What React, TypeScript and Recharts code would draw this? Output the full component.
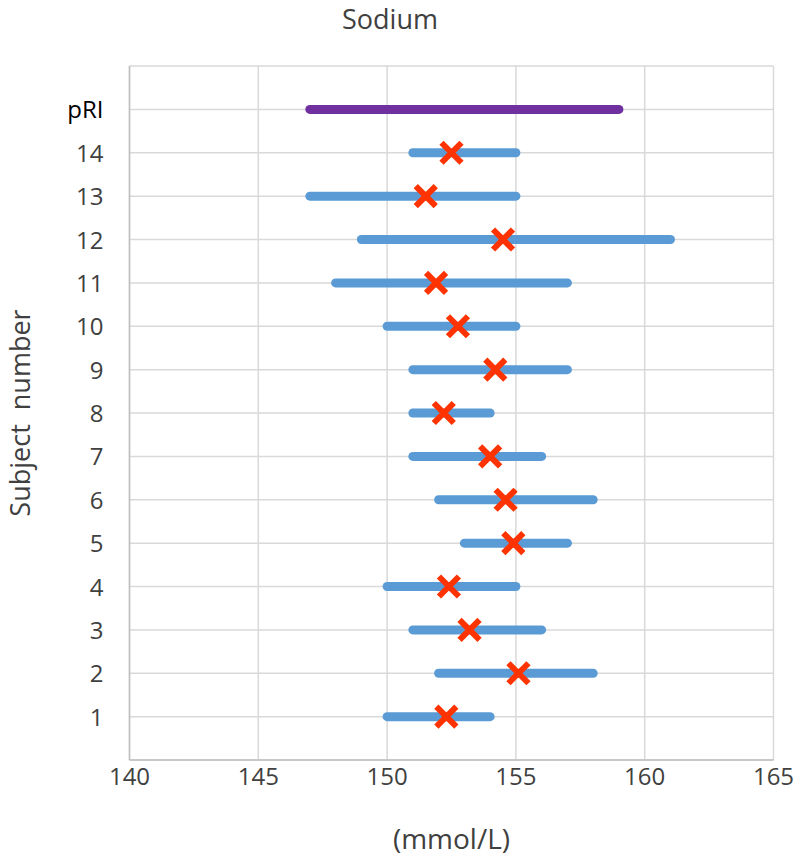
import React from 'react';
import { ScatterChart, Scatter, XAxis, YAxis, CartesianGrid } from 'recharts';

const subjects = [1, 2, 3, 4, 5, 6, 7, 8, 9, 10, 11, 12, 13, 14];
const lows = [150, 152, 151, 150, 153, 152, 151, 151, 151, 150, 148, 149, 147, 151];
const highs = [154, 158, 156, 155, 157, 158, 156, 154, 157, 155, 157, 161, 155, 155];
const means = [152.3, 155.1, 153.2, 152.4, 154.9, 154.6, 154.0, 152.2, 154.2, 152.75, 151.9, 154.5, 151.5, 152.5];
const pRIRange = [147, 159];
const pRIRow = 15;
const xTicks = [140, 145, 150, 155, 160, 165];
const yTicks = [0, 1, 2, 3, 4, 5, 6, 7, 8, 9, 10, 11, 12, 13, 14, 15, 16];

const FONT = '"Open Sans", sans-serif';
const BLUE = '#5b9bd5';
const PURPLE = '#7030a0';
const RED = '#ff3300';

const rangeSeries = subjects.map((s, i) => [
  { x: lows[i], y: s },
  { x: highs[i], y: s },
]);
const pRIData = [
  { x: pRIRange[0], y: pRIRow },
  { x: pRIRange[1], y: pRIRow },
];
const meanData = subjects.map((s, i) => ({ x: means[i], y: s }));

const Nothing = () => <g />;

const Cross = (props: any) => {
  const { cx, cy } = props;
  const r = 10;
  return (
    <path
      d={`M${cx - r},${cy - r}L${cx + r},${cy + r}M${cx - r},${cy + r}L${cx + r},${cy - r}`}
      stroke={RED}
      strokeWidth={6}
      fill="none"
    />
  );
};

const YTick = (props: any) => {
  const { x, y, payload } = props;
  const v = payload.value;
  if (v === 0 || v === 16) return <g />;
  const label = v === pRIRow ? 'pRI' : String(v);
  return (
    <text
      x={x}
      y={y}
      dy={9}
      textAnchor="end"
      fill={v === pRIRow ? '#000000' : '#404040'}
      fontFamily={FONT}
      fontSize={24}
    >
      {label}
    </text>
  );
};

export default function App() {
  return (
    <div style={{ position: 'relative', width: 796, height: 858, overflow: 'hidden' }}>
      <style>{`html, body { margin: 0; padding: 0; overflow: hidden; }`}</style>
      <div
        style={{
          position: 'absolute',
          left: 0,
          top: 3.5,
          width: 780,
          height: 30,
          textAlign: 'center',
          fontFamily: FONT,
          fontSize: 27,
          lineHeight: '30px',
          color: '#404040',
        }}
      >
        Sodium
      </div>
      <ScatterChart width={796} height={858} margin={{ top: 66, right: 22.5, left: 0, bottom: 0 }}>
        <CartesianGrid stroke="#d9d9d9" strokeWidth={1.5} />
        <XAxis
          type="number"
          dataKey="x"
          domain={[140, 165]}
          ticks={xTicks}
          allowDataOverflow
          height={98}
          tickSize={0}
          tickMargin={8}
          axisLine={{ stroke: '#bfbfbf', strokeWidth: 1.5 }}
          tick={{ fill: '#404040', fontFamily: FONT, fontSize: 24 }}
          label={{
            value: '(mmol/L)',
            position: 'insideBottom',
            offset: 9,
            style: { fill: '#404040', fontFamily: FONT, fontSize: 28 },
          }}
        />
        <YAxis
          type="number"
          dataKey="y"
          domain={[0, 16]}
          ticks={yTicks}
          interval={0}
          width={129.5}
          tickSize={0}
          tickMargin={26}
          axisLine={{ stroke: '#bfbfbf', strokeWidth: 1.5 }}
          tick={<YTick />}
          label={{
            value: 'Subject\u00A0 number',
            angle: -90,
            position: 'insideLeft',
            offset: 20,
            style: { fill: '#404040', fontFamily: FONT, fontSize: 27, textAnchor: 'middle' },
          }}
        />
        {rangeSeries.map((d, i) => (
          <Scatter
            key={`r${i}`}
            data={d}
            fill={BLUE}
            line={{ stroke: BLUE, strokeWidth: 9, strokeLinecap: 'round' }}
            shape={<Nothing />}
            isAnimationActive={false}
          />
        ))}
        <Scatter
          data={pRIData}
          fill={PURPLE}
          line={{ stroke: PURPLE, strokeWidth: 9, strokeLinecap: 'round' }}
          shape={<Nothing />}
          isAnimationActive={false}
        />
        <Scatter data={meanData} fill={RED} shape={<Cross />} isAnimationActive={false} />
      </ScatterChart>
    </div>
  );
}
